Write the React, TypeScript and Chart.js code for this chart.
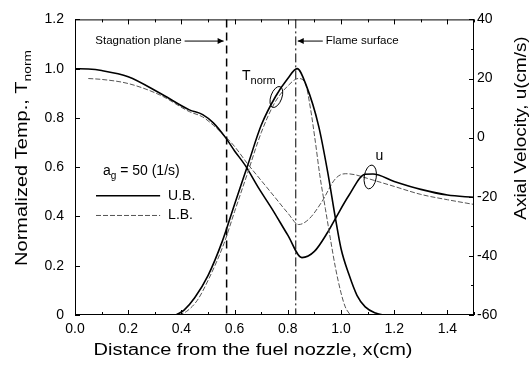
import React, { useEffect, useRef } from 'react';
import { Chart, registerables } from 'chart.js';
Chart.register(...registerables);

// ---- axis ticks ----
const X_TICKS = [0, 0.2, 0.4, 0.6, 0.8, 1.0, 1.2, 1.4];
const X_MINOR = [0.1, 0.3, 0.5, 0.7, 0.9, 1.1, 1.3, 1.5];
const Y_TICKS = [0, 0.2, 0.4, 0.6, 0.8, 1.0, 1.2];
const Y2_TICKS = [-60, -40, -20, 0, 20, 40];
const Y2_MINOR = [-50, -30, -10, 10, 30];

// ---- normalized temperature (left axis) ----
const T_UB_X = [0.38, 0.41, 0.45, 0.5, 0.554, 0.6, 0.65, 0.7, 0.754, 0.8, 0.835, 0.87, 0.916, 0.95, 0.979, 1.0, 1.029, 1.06, 1.091, 1.13, 1.16];
const T_UB = [0, 0.02, 0.07, 0.16, 0.3, 0.45, 0.61, 0.77, 0.887, 0.96, 1.0, 0.93, 0.767, 0.58, 0.393, 0.27, 0.167, 0.08, 0.033, 0.008, 0];
const T_LB_X = [0.39, 0.42, 0.46, 0.5, 0.56, 0.6, 0.65, 0.7, 0.75, 0.8, 0.84, 0.866, 0.885, 0.904, 0.92, 0.941, 0.96, 0.979, 1.0, 1.016, 1.035];
const T_LB = [0, 0.015, 0.06, 0.14, 0.29, 0.42, 0.58, 0.74, 0.86, 0.93, 0.96, 0.94, 0.84, 0.7, 0.57, 0.433, 0.31, 0.193, 0.09, 0.033, 0];

// ---- axial velocity (right axis, cm/s) ----
const U_UB_X = [0, 0.05, 0.1, 0.2, 0.32, 0.43, 0.48, 0.52, 0.566, 0.6, 0.64, 0.69, 0.74, 0.8, 0.853, 0.9, 0.95, 0.98, 1.03, 1.09, 1.12, 1.2, 1.3, 1.4, 1.5];
const U_UB = [23.3, 23.2, 22.7, 20.6, 15, 9.4, 7.8, 5, 0, -4.5, -9.4, -17, -24, -33, -40.6, -38.5, -32, -27.2, -19.5, -12.4, -12.3, -14.8, -17.5, -19.4, -20.2];
const U_LB_X = [0.05, 0.1, 0.2, 0.32, 0.43, 0.48, 0.52, 0.566, 0.6, 0.65, 0.7, 0.75, 0.8, 0.841, 0.88, 0.928, 0.979, 1.016, 1.05, 1.1, 1.2, 1.3, 1.4, 1.5];
const U_LB = [20, 19.7, 18.3, 14.4, 8.8, 7, 4.2, 0.3, -3, -9, -14.5, -20, -25.5, -29.4, -27.5, -21.7, -13.9, -12.2, -12.5, -13.8, -16.5, -19.2, -21, -22.6];

// ---- markers ----
const STAGNATION_X = 0.57;
const FLAME_X = 0.83;

const FONT = '"Liberation Sans", Arial, Helvetica, sans-serif';

const pts = (xs: number[], ys: number[]) => xs.map((x, i) => ({ x, y: ys[i] }));

const overlay = {
  id: 'overlay',
  beforeDatasetsDraw(chart: any) {
    const ctx = chart.ctx;
    const { top, bottom } = chart.chartArea;
    const xs = chart.scales.x;
    ctx.save();
    ctx.strokeStyle = '#000';
    const sx = xs.getPixelForValue(STAGNATION_X);
    ctx.lineWidth = 1.5;
    ctx.setLineDash([8, 5]);
    ctx.beginPath();
    ctx.moveTo(sx, top);
    ctx.lineTo(sx, bottom);
    ctx.stroke();
    const fx = xs.getPixelForValue(FLAME_X);
    ctx.lineWidth = 1;
    ctx.setLineDash([9, 3, 2, 3]);
    ctx.beginPath();
    ctx.moveTo(fx, top);
    ctx.lineTo(fx, bottom);
    ctx.stroke();
    ctx.restore();
  },
  afterDraw(chart: any) {
    const ctx = chart.ctx;
    const { left, right, top, bottom } = chart.chartArea;
    const xs = chart.scales.x;
    const ys = chart.scales.y;
    const y2 = chart.scales.y2;
    ctx.save();
    ctx.strokeStyle = '#000';
    ctx.fillStyle = '#000';
    ctx.setLineDash([]);
    ctx.lineWidth = 1;
    ctx.strokeRect(left + 0.5, top + 0.5, right - left - 1, bottom - top - 1);
    const tick = (x1: number, y1: number, x2: number, y2p: number) => {
      ctx.beginPath();
      ctx.moveTo(x1, y1);
      ctx.lineTo(x2, y2p);
      ctx.stroke();
    };
    X_TICKS.forEach((v) => {
      const p = Math.round(xs.getPixelForValue(v)) + 0.5;
      tick(p, bottom, p, bottom - 5);
      tick(p, top, p, top + 5);
    });
    X_MINOR.forEach((v) => {
      const p = Math.round(xs.getPixelForValue(v)) + 0.5;
      tick(p, bottom, p, bottom - 3);
      tick(p, top, p, top + 3);
    });
    Y_TICKS.forEach((v) => {
      const p = Math.round(ys.getPixelForValue(v)) + 0.5;
      tick(left, p, left + 5, p);
    });
    Y2_TICKS.forEach((v) => {
      const p = Math.round(y2.getPixelForValue(v)) + 0.5;
      tick(right, p, right - 5, p);
    });
    Y2_MINOR.forEach((v) => {
      const p = Math.round(y2.getPixelForValue(v)) + 0.5;
      tick(right, p, right - 3, p);
    });

    // annotations at top
    const sx = xs.getPixelForValue(STAGNATION_X);
    const fx = xs.getPixelForValue(FLAME_X);
    const ay = ys.getPixelForValue(1.112);
    ctx.font = `11.5px ${FONT}`;
    ctx.textBaseline = 'middle';
    ctx.textAlign = 'right';
    ctx.fillText('Stagnation plane', sx - 45, ay);
    const arrow = (x1: number, x2: number, y: number) => {
      ctx.lineWidth = 1;
      ctx.beginPath();
      ctx.moveTo(x1, y);
      ctx.lineTo(x2, y);
      ctx.stroke();
      const d = x2 > x1 ? -1 : 1;
      ctx.beginPath();
      ctx.moveTo(x2, y);
      ctx.lineTo(x2 + d * 6, y - 3);
      ctx.lineTo(x2 + d * 6, y + 3);
      ctx.closePath();
      ctx.fill();
    };
    arrow(sx - 42, sx - 3, ay);
    arrow(fx + 27, fx + 2, ay);
    ctx.textAlign = 'left';
    ctx.fillText('Flame surface', fx + 30, ay);

    // T_norm label + ellipse
    ctx.font = `14px ${FONT}`;
    ctx.textBaseline = 'alphabetic';
    const tlx = xs.getPixelForValue(0.628);
    const tly = ys.getPixelForValue(0.955);
    ctx.fillText('T', tlx, tly);
    const tw = ctx.measureText('T').width;
    ctx.font = `11px ${FONT}`;
    ctx.fillText('norm', tlx + tw, tly + 4);
    ctx.lineWidth = 1;
    ctx.beginPath();
    ctx.ellipse(xs.getPixelForValue(0.757), ys.getPixelForValue(0.885), 5.5, 11, 0.35, 0, Math.PI * 2);
    ctx.stroke();

    // u label + ellipse
    ctx.font = `14px ${FONT}`;
    ctx.fillText('u', xs.getPixelForValue(1.13), y2.getPixelForValue(-7.5));
    ctx.beginPath();
    ctx.ellipse(xs.getPixelForValue(1.11), y2.getPixelForValue(-13.3), 6, 12, 0.15, 0, Math.PI * 2);
    ctx.stroke();

    // legend
    const lx = xs.getPixelForValue(0.105);
    const ly = ys.getPixelForValue(0.57);
    ctx.font = `14px ${FONT}`;
    ctx.fillText('a', lx, ly);
    const aw = ctx.measureText('a').width;
    ctx.font = `10px ${FONT}`;
    ctx.fillText('g', lx + aw, ly + 4);
    const gw = ctx.measureText('g').width;
    ctx.font = `14px ${FONT}`;
    ctx.fillText(' = 50 (1/s)', lx + aw + gw, ly);
    const l1 = xs.getPixelForValue(0.079);
    const l2 = xs.getPixelForValue(0.32);
    const lt = xs.getPixelForValue(0.35);
    const u1 = ys.getPixelForValue(0.484);
    const u2 = ys.getPixelForValue(0.404);
    ctx.lineWidth = 1.5;
    ctx.beginPath();
    ctx.moveTo(l1, u1);
    ctx.lineTo(l2, u1);
    ctx.stroke();
    ctx.strokeStyle = '#555';
    ctx.lineWidth = 1;
    ctx.setLineDash([5, 2]);
    ctx.beginPath();
    ctx.moveTo(l1, u2);
    ctx.lineTo(l2, u2);
    ctx.stroke();
    ctx.setLineDash([]);
    ctx.textBaseline = 'middle';
    ctx.fillText('U.B.', lt, u1);
    ctx.fillText('L.B.', lt, u2);

    // axis titles
    const SX = 1.25;
    ctx.save();
    ctx.translate(253, 351);
    ctx.scale(SX, 1);
    ctx.font = `16px ${FONT}`;
    ctx.textAlign = 'center';
    ctx.textBaseline = 'middle';
    ctx.fillText('Distance from the fuel nozzle, x(cm)', 0, 0);
    ctx.restore();

    ctx.save();
    ctx.translate(22, 158);
    ctx.rotate(-Math.PI / 2);
    ctx.scale(SX, 1);
    ctx.textBaseline = 'alphabetic';
    ctx.textAlign = 'left';
    ctx.font = `16px ${FONT}`;
    const mainT = 'Normalized Temp., T';
    const mw = ctx.measureText(mainT).width;
    ctx.font = `11px ${FONT}`;
    const sw = ctx.measureText('norm').width;
    const start = -(mw + sw) / 2;
    ctx.font = `16px ${FONT}`;
    ctx.fillText(mainT, start, 5);
    ctx.font = `11px ${FONT}`;
    ctx.fillText('norm', start + mw, 9);
    ctx.restore();

    ctx.save();
    ctx.translate(522, 128);
    ctx.rotate(-Math.PI / 2);
    ctx.scale(1.18, 1);
    ctx.font = `16px ${FONT}`;
    ctx.textAlign = 'center';
    ctx.textBaseline = 'middle';
    ctx.fillText('Axial Velocity, u(cm/s)', 0, 0);
    ctx.restore();

    ctx.restore();
  },
};

export default function App() {
  const ref = useRef<HTMLCanvasElement | null>(null);
  useEffect(() => {
    if (!ref.current) return;
    const chart = new Chart(ref.current, {
      type: 'line',
      data: {
        datasets: [
          { label: 'T U.B.', data: pts(T_UB_X, T_UB), yAxisID: 'y', borderColor: '#000', borderWidth: 1.6, pointRadius: 0, cubicInterpolationMode: 'monotone', fill: false },
          { label: 'T L.B.', data: pts(T_LB_X, T_LB), yAxisID: 'y', borderColor: '#555', borderWidth: 1, borderDash: [5, 2], pointRadius: 0, cubicInterpolationMode: 'monotone', fill: false },
          { label: 'u U.B.', data: pts(U_UB_X, U_UB), yAxisID: 'y2', borderColor: '#000', borderWidth: 1.6, pointRadius: 0, cubicInterpolationMode: 'monotone', fill: false },
          { label: 'u L.B.', data: pts(U_LB_X, U_LB), yAxisID: 'y2', borderColor: '#555', borderWidth: 1, borderDash: [5, 2], pointRadius: 0, cubicInterpolationMode: 'monotone', fill: false },
        ],
      },
      options: {
        animation: false,
        responsive: false,
        devicePixelRatio: 1,
        layout: { padding: { top: 15, left: 0, right: 0, bottom: 0 } },
        plugins: { legend: { display: false }, tooltip: { enabled: false } },
        scales: {
          x: {
            type: 'linear',
            min: 0,
            max: 1.5,
            grid: { display: false, drawTicks: false },
            border: { display: false },
            afterBuildTicks: (s: any) => { s.ticks = X_TICKS.map((v) => ({ value: v })); },
            afterFit: (s: any) => { s.height = 51; },
            ticks: { color: '#000', padding: 6, maxRotation: 0, autoSkip: false, font: { family: FONT, size: 14 }, callback: (v: any) => Number(v).toFixed(1) },
          },
          y: {
            type: 'linear',
            position: 'left',
            min: 0,
            max: 1.2,
            grid: { display: false, drawTicks: false },
            border: { display: false },
            afterBuildTicks: (s: any) => { s.ticks = Y_TICKS.map((v) => ({ value: v })); },
            afterFit: (s: any) => { s.width = 75; },
            ticks: { color: '#000', padding: 11, font: { family: FONT, size: 14 }, callback: (v: any) => (Number(v) === 0 ? '0' : Number(v).toFixed(1)) },
          },
          y2: {
            type: 'linear',
            position: 'right',
            min: -60,
            max: 40,
            grid: { display: false, drawTicks: false },
            border: { display: false },
            afterBuildTicks: (s: any) => { s.ticks = Y2_TICKS.map((v) => ({ value: v })); },
            afterFit: (s: any) => { s.width = 57; },
            ticks: { color: '#000', padding: 3, font: { family: FONT, size: 14 }, callback: (v: any) => String(v) },
          },
        },
      },
      plugins: [overlay],
    } as any);
    return () => chart.destroy();
  }, []);
  return (
    <div style={{ position: 'fixed', left: 0, top: 0, width: 531, height: 366, background: '#fff' }}>
      <canvas ref={ref} width={531} height={366} style={{ width: 531, height: 366, display: 'block' }} />
    </div>
  );
}
